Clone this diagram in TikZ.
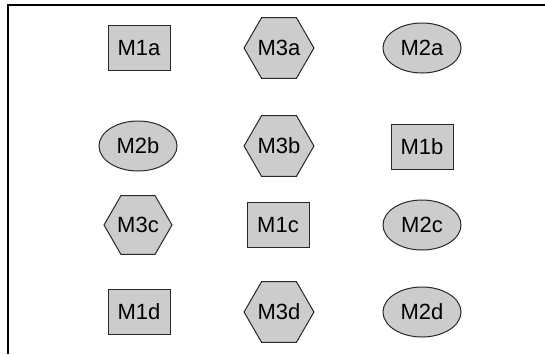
\documentclass[tikz,border=0pt]{standalone}
\usepackage{fontspec}
\setmainfont{Liberation Sans}
\usepackage{xcolor}
\usetikzlibrary{shapes.geometric}
\definecolor{mgray}{RGB}{204,204,204}
\definecolor{mline}{RGB}{40,40,40}

\begin{document}
\begin{tikzpicture}[x=0.5pt, y=-0.5pt, every node/.style={font=\fontsize{11}{13}\selectfont}]
    % Define styles
    \tikzset{
        shapebox/.style={draw=mline, line width=0.5pt, fill=mgray, inner sep=0pt, align=center},
        rectbox/.style={shapebox, rectangle, minimum width=31pt, minimum height=22.5pt},
        hexbox/.style={shapebox, regular polygon, regular polygon sides=6, minimum size=34pt},
        ellbox/.style={shapebox, ellipse, minimum width=39pt, minimum height=25pt}
    }
    \useasboundingbox (0,0) rectangle (545,354);

    % Frame
    \draw[line width=1pt] (545,5) -- (8,5) -- (8,354);

    % Row a
    \node[rectbox] (m1a) at (139,48) {M1a};
    \node[hexbox] (m3a) at (279,48) {M3a};
    \node[ellbox] (m2a) at (422,48) {M2a};

    % Row b
    \node[ellbox] (m2b) at (138,146) {M2b};
    \node[hexbox] (m3b) at (279,146) {M3b};
    \node[rectbox] (m1b) at (422,147) {M1b};

    % Row c
    \node[hexbox] (m3c) at (138,225) {M3c};
    \node[rectbox] (m1c) at (278,225) {M1c};
    \node[ellbox] (m2c) at (422,225) {M2c};

    % Row d
    \node[rectbox] (m1d) at (139,312) {M1d};
    \node[hexbox] (m3d) at (279,312) {M3d};
    \node[ellbox] (m2d) at (422,312) {M2d};
\end{tikzpicture}
\end{document}
